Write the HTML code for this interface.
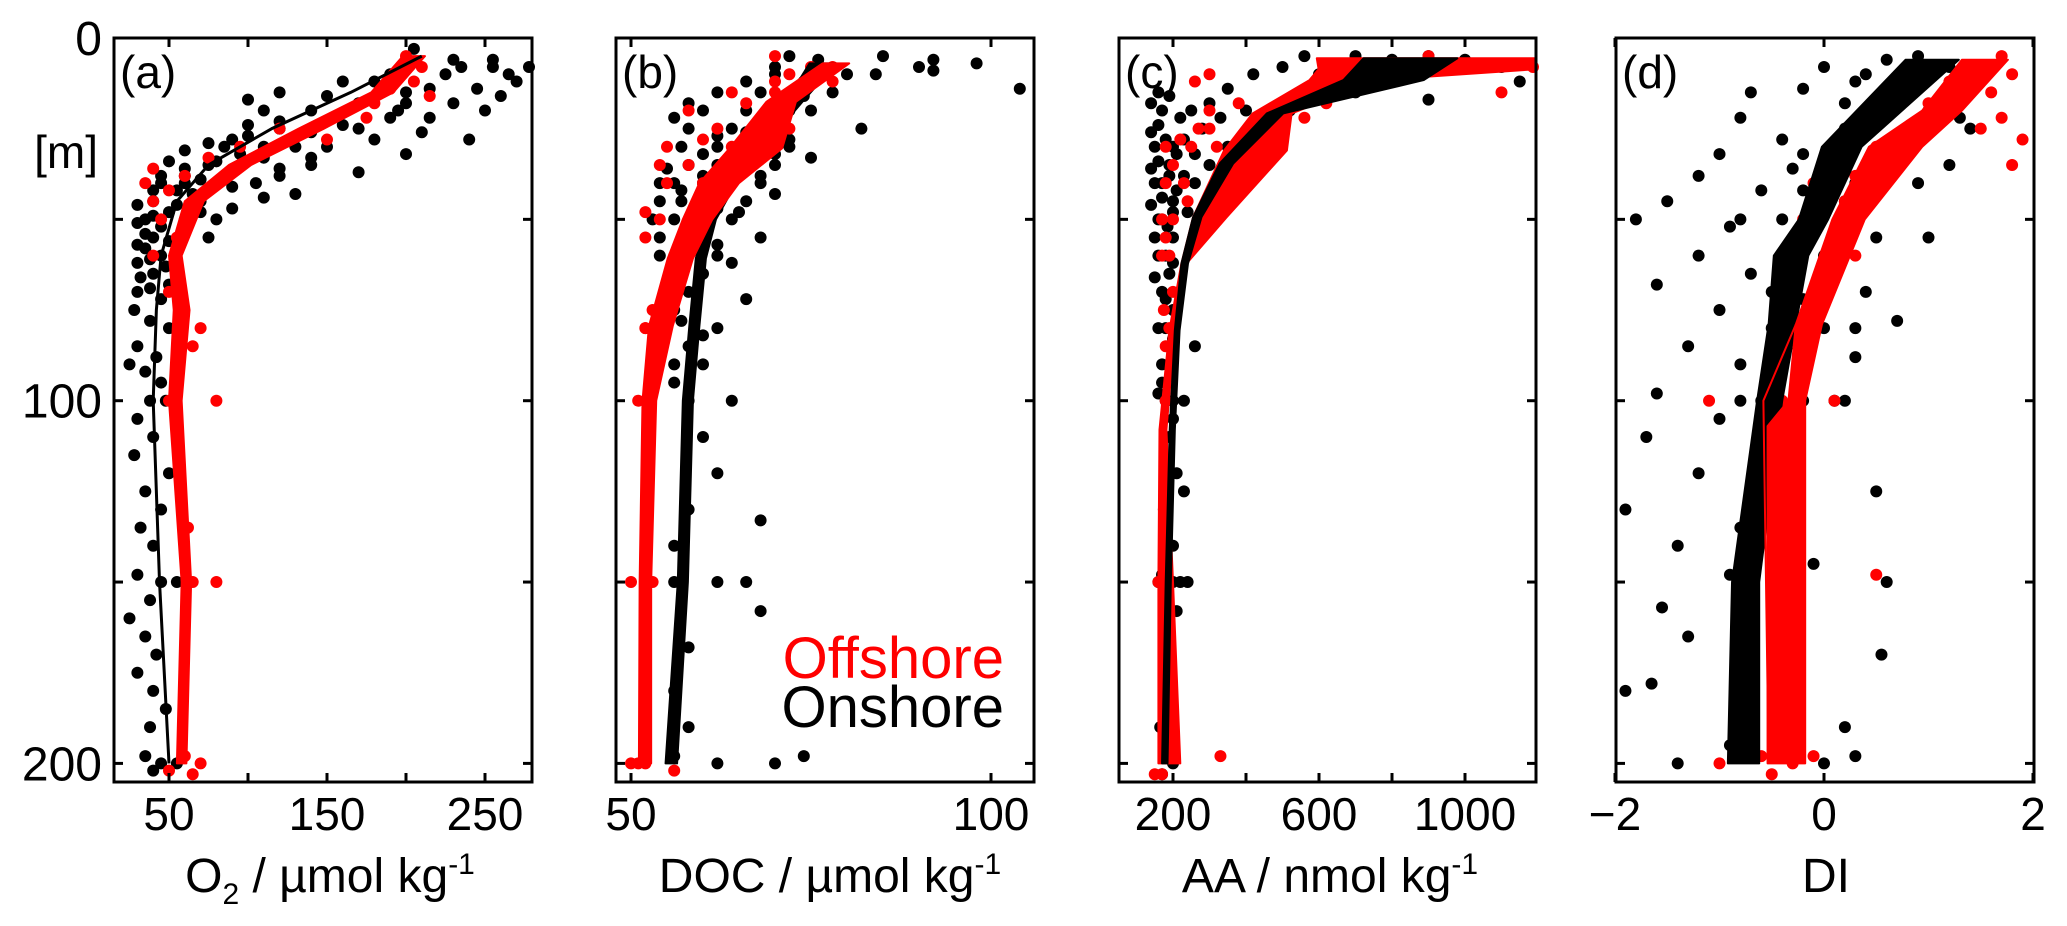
<!DOCTYPE html>
<html><head><meta charset="utf-8"><style>
html,body{margin:0;padding:0;background:#fff;}
svg{display:block;font-family:"Liberation Sans",Arial,sans-serif;}
</style></head><body>
<svg id="fig" width="2067" height="926" viewBox="0 0 2067 926" xmlns="http://www.w3.org/2000/svg"></svg>
<script>
// ---- data ----
const depthTicks = [0, 50, 100, 150, 200];
const depthLabels = ["0", "100", "200"];
// panel a: O2
const aTicks = [50, 100, 150, 200, 250];
const aLabels = [50, 150, 250];
const aOnDots = [[3,205],[6,255],[8,280],[8,235],[10,225],[10,190],[12,180],[12,160],[14,245],[15,200],[16,150],[18,230],[18,170],[20,140],[20,195],[22,215],[24,160],[25,120],[27,100],[28,240],[28,180],[30,85],[30,130],[30,150],[32,200],[33,110],[35,75],[35,95],[35,140],[37,170],[38,60],[38,120],[40,45],[40,80],[40,105],[42,55],[43,130],[45,40],[45,70],[47,90],[48,50],[50,35],[50,60],[52,45],[55,40],[55,75],[58,35],[60,45],[62,30],[65,40],[68,50],[70,30],[72,45],[75,28],[78,38],[80,50],[85,30],[88,42],[90,25],[92,35],[95,45],[100,38],[100,48],[105,30],[110,40],[115,28],[120,50],[125,35],[130,45],[135,32],[140,40],[148,30],[150,45],[150,55],[155,38],[160,25],[165,35],[170,42],[175,30],[180,40],[185,48],[190,38],[198,35],[200,45],[200,55],[202,40]];
const aOnDotsExtra = [[20,250],[22,190],[23,120],[24,100],[26,210],[26,140],[28,90],[29,75],[30,110],[31,60],[32,95],[33,140],[34,50],[34,80],[36,120],[36,60],[37,90],[38,45],[39,70],[40,60],[41,90],[42,40],[43,65],[44,110],[46,55],[46,30],[48,70],[49,40],[50,80],[51,30],[53,60],[54,35],[56,50],[57,30],[59,55],[61,38],[63,48],[66,32],[69,38],[8,255],[10,265],[6,230],[14,215],[16,260],[12,270],[18,200],[20,110],[25,170],[15,120],[17,100]];
const aOffDots = [[5,200],[8,210],[10,195],[12,205],[14,190],[16,215],[18,180],[22,175],[25,120],[28,150],[30,95],[33,75],[36,40],[38,60],[40,35],[42,50],[45,40],[50,45],[55,55],[60,40],[70,50],[80,70],[85,65],[100,50],[100,80],[135,62],[150,65],[150,80],[198,60],[200,70],[202,50],[203,65]];
const bandDepthA = [5,15,25,35,45,60,75,100,150,200];
const aOffLo = [198,178,132,88,60,50,53,50,58,55];
const aOffHi = [212,192,148,102,72,58,63,58,64,61];
const aOnMean = [210,165,115,75,55,45,42,40,44,50];
// panel b: DOC
const bTicks = [50, 100];
const bLabels = [50, 100];
const bOnDots = [[5,72],[5,85],[6,92],[8,76],[8,90],[10,70],[10,80],[12,74],[14,104],[15,68],[15,78],[18,72],[20,66],[20,75],[22,70],[25,64],[25,82],[28,68],[30,62],[30,72],[33,66],[35,58],[35,70],[38,64],[40,56],[40,68],[42,62],[45,54],[45,66],[48,60],[50,56],[50,64],[55,58],[55,68],[60,54],[60,62],[65,60],[70,58],[72,66],[75,56],[80,62],[85,58],[90,60],[95,56],[100,58],[100,64],[110,60],[120,62],[130,58],[133,68],[140,56],[150,56],[150,62],[150,66],[158,68],[168,58],[180,56],[190,58],[198,56],[200,62],[200,70],[198,74]];
const bOnDotsExtra = [[15,62],[18,58],[20,60],[22,56],[25,58],[27,62],[28,72],[30,57],[32,60],[33,75],[35,62],[36,55],[38,60],[40,54],[40,60],[42,57],[43,70],[45,57],[47,62],[48,65],[50,53],[52,58],[55,54],[57,62],[60,57],[62,64],[70,55],[78,57],[82,60],[90,56],[8,70],[6,76],[12,66],[10,84],[7,98],[9,92],[16,74],[20,72],[26,66],[32,70],[38,68]];
const bOffDots = [[5,70],[8,75],[10,72],[12,78],[15,70],[18,66],[22,68],[25,72],[28,60],[30,64],[35,58],[40,55],[45,60],[50,54],[55,52],[65,56],[75,53],[80,52],[100,51],[150,50],[150,53],[200,51],[202,56],[200,52],[15,64],[20,58],[25,62],[30,55],[35,54],[40,60],[48,52],[60,56],[80,52],[100,52],[200,50],[12,70],[8,78]];
const bandDepthB = [7,17.6,30.4,40,50,60.8,79.4,100,150,200];
const bOffLo = [76.6,68.8,63.7,59.5,57.2,55.1,52.5,51.6,51.2,51.1];
const bOffHi = [80.3,72.9,71,65,61.3,58.6,55.8,53.5,52.8,52.8];
const bOnLo = [74.8,71.5,66.4,63.2,60.4,59,58.1,57.2,56.5,54.8];
const bOnHi = [78.5,73.8,68.3,64.6,61.8,60.4,59.5,58.6,57.9,56.4];
// panel c: AA
const cTicks = [200, 400, 600, 800, 1000];
const cLabels = [200, 600, 1000];
const cOnDots = [[5,700],[5,900],[6,1000],[8,500],[8,800],[10,420],[10,650],[12,1150],[14,350],[15,550],[18,300],[20,250],[20,400],[22,330],[25,280],[25,450],[28,230],[30,200],[30,350],[32,260],[35,190],[35,300],[38,230],[40,170],[40,260],[45,200],[48,240],[50,170],[55,200],[58,250],[60,180],[65,190],[70,170],[75,200],[80,180],[85,260],[90,190],[95,170],[100,180],[100,230],[105,200],[110,190],[120,210],[125,230],[130,175],[140,200],[148,170],[150,200],[150,240],[158,210],[170,185],[190,165],[198,180],[200,200],[203,170]];
const cOnDotsExtra = [[15,160],[16,190],[18,140],[20,170],[22,220],[24,160],[26,140],[28,180],[30,150],[32,210],[34,160],[36,140],[38,190],[40,150],[42,210],[44,170],[46,140],[48,200],[50,160],[52,185],[55,150],[60,160],[62,200],[66,150],[72,180],[80,160],[83,200],[90,170],[98,160],[100,200],[150,160],[150,190],[150,220],[5,560],[6,800],[8,1100],[10,600],[12,700],[15,700],[17,900],[20,520],[25,500],[30,480]];
const cOffDots = [[5,900],[8,1194],[8,700],[10,650],[15,1100],[18,620],[22,560],[25,300],[28,400],[30,250],[35,200],[40,180],[45,240],[50,200],[55,180],[60,170],[75,175],[80,190],[100,180],[150,175],[150,160],[198,330],[203,150],[203,170],[10,300],[12,260],[20,300],[25,270],[30,180],[40,230],[50,170],[60,190],[70,200],[85,180],[30,320],[18,380],[28,220]];
const bandDepthC = [5.6,8.6,11.6,20.8,31,49.4,62.2,80.6,108,150,200];
const cOffLo = [594,599,574,418,340,255,223,190,163,160,160];
const cOffHi = [1199,1199,759,525,512,347,237,205,182,200,220];
const bandDepthC2 = [5.6,11.6,20.8,34.6,49.4,62.2,80.6,108,150,200];
const cOnLo = [722,667,457,328,255,223,205,191,180,170];
const cOnHi = [979,887,502,365,278,241,218,205,194,185];
// panel d: DI
const dTicks = [-2, 0, 2];
const dLabels = ["\u22122", "0", "2"];
const dOnDots = [[5,0.9],[6,0.6],[8,1.2],[10,0.4],[12,1.3],[14,-0.2],[15,0.8],[18,0.2],[20,1.0],[22,-0.8],[24,0.5],[25,1.4],[28,-0.4],[30,0.1],[32,-1.0],[35,0.6],[36,-0.3],[38,-1.2],[40,0.3],[42,-0.6],[45,-1.5],[45,0.2],[48,-0.1],[50,-1.8],[52,-0.9],[55,0.5],[58,-0.3],[60,-1.2],[62,0.1],[65,-0.7],[68,-1.6],[70,0.4],[72,-0.2],[75,-1.0],[78,0.7],[80,-0.5],[85,-1.3],[88,0.3],[90,-0.8],[95,-0.2],[98,-1.6],[100,-0.6],[100,0.1],[105,-1.0],[110,-1.7],[115,-0.3],[120,-1.2],[125,0.5],[130,-1.9],[135,-0.8],[140,-1.4],[145,-0.1],[148,-0.9],[150,-0.3],[150,0.6],[157,-1.55],[165,-1.3],[170,0.55],[178,-1.65],[180,-1.9],[190,0.2],[195,-0.9],[200,-1.4],[200,0.0],[198,0.3]];
const dOnDotsExtra = [[8,0.0],[10,0.9],[12,0.3],[15,-0.7],[18,0.6],[22,1.3],[25,0.2],[30,0.7],[32,-0.2],[35,1.2],[40,0.9],[42,-0.2],[50,-0.8],[50,-0.4],[55,1.0],[60,0.0],[70,-0.5],[80,0.0],[80,0.3],[100,-0.2],[100,0.2],[100,-0.8]];
const dOffDots = [[5,1.7],[8,1.5],[10,1.8],[12,1.2],[15,1.6],[18,1.0],[22,1.7],[25,0.8],[28,1.9],[30,0.5],[35,1.8],[38,0.3],[40,-0.1],[45,0.2],[100,-1.1],[100,0.1],[150,-0.8],[148,0.5],[198,-0.1],[200,-1.0],[203,-0.5],[20,0.5],[25,1.5],[32,0.8],[40,0.6],[50,-0.2],[60,0.3],[80,-0.3],[100,-0.4],[200,-0.3],[198,-0.6]];
const bandDepthD = [6,30,50,60,79,100,150,200];
const dOnLo = [0.78,-0.02,-0.24,-0.48,-0.53,-0.64,-0.88,-0.92];
const dOnHi = [1.29,0.36,0.04,-0.15,-0.27,-0.40,-0.62,-0.62];
const bandDepthD2 = [6,20,30,50,79,100,107,150,200];
const dOffLo = [1.32,0.94,0.43,0.08,-0.27,-0.34,-0.54,-0.54,-0.54];
const dOffHi = [1.76,1.32,0.94,0.39,-0.02,-0.18,-0.18,-0.18,-0.18];
const dOffLineDepth = [79,100,200];
const dOffLineVal = [-0.27,-0.58,-0.53];

// ---- layout ----
const NS = "http://www.w3.org/2000/svg";
const svg = document.getElementById("fig");
const TOP = 38, BOT = 782;
function yScale(d){ return 38 + (763.4 - 38) * d / 200; }
function mk(tag, attrs, parent){
  const e = document.createElementNS(NS, tag);
  for (const k in attrs) e.setAttribute(k, attrs[k]);
  (parent || svg).appendChild(e);
  return e;
}
const panels = [
  {id:"a", left:114, right:532, v0:50, p0:169, v1:250, p1:485, ticks:aTicks, labels:aLabels, labelText:null},
  {id:"b", left:616, right:1034, v0:50, p0:631, v1:100, p1:991, ticks:bTicks, labels:bLabels, labelText:null},
  {id:"c", left:1119, right:1536, v0:200, p0:1173, v1:1000, p1:1465, ticks:cTicks, labels:cLabels, labelText:null},
  {id:"d", left:1616, right:2034, v0:-2, p0:1615, v1:2, p1:2033, ticks:dTicks, labels:dTicks, labelText:dLabels}
];
function xs(p){ return v => p.p0 + (v - p.v0) * (p.p1 - p.p0) / (p.v1 - p.v0); }

function band(g, p, depths, lo, hi, color, name){
  const x = xs(p);
  let pts = [];
  for (let i=0;i<depths.length;i++) pts.push(Math.min(x(lo[i]),p.right)+","+yScale(depths[i]));
  for (let i=depths.length-1;i>=0;i--) pts.push(Math.min(x(hi[i]),p.right)+","+yScale(depths[i]));
  const e = mk("polygon",{points:pts.join(" "),fill:color,stroke:color,"stroke-width":2,"stroke-linejoin":"round"},g);
  
  
}
function line(g, p, depths, vals, color, w, name){
  const x = xs(p);
  const pts = depths.map((d,i)=>x(vals[i])+","+yScale(d)).join(" ");
  const e = mk("polyline",{points:pts,fill:"none",stroke:color,"stroke-width":w,"stroke-linejoin":"round"},g);
  
  
}
function dots(g, p, arr, color, name){
  const x = xs(p);
  arr.forEach(([d,v])=>{
    const c = mk("circle",{cx:Math.min(Math.max(x(v),p.left+4),p.right-3),cy:yScale(d),r:6,fill:color},g);
    
    
  });
}

panels.forEach(p=>{
  const g = mk("g",{});
  
  
  const x = xs(p);
  if (p.id==="a"){
    dots(g,p,aOnDots,"#000","onshore-point");
    dots(g,p,aOnDotsExtra,"#000","onshore-point");
    dots(g,p,aOffDots,"#f00","offshore-point");
    band(g,p,bandDepthA,aOffLo,aOffHi,"#f00","offshore-mean-band");
    line(g,p,bandDepthA,aOnMean,"#000",3,"onshore-mean-line");
  } else if (p.id==="b"){
    dots(g,p,bOnDots,"#000","onshore-point");
    dots(g,p,bOnDotsExtra,"#000","onshore-point");
    dots(g,p,bOffDots,"#f00","offshore-point");
    band(g,p,bandDepthB,bOnLo,bOnHi,"#000","onshore-mean-band");
    band(g,p,bandDepthB,bOffLo,bOffHi,"#f00","offshore-mean-band");
  } else if (p.id==="c"){
    dots(g,p,cOnDots,"#000","onshore-point");
    dots(g,p,cOnDotsExtra,"#000","onshore-point");
    dots(g,p,cOffDots,"#f00","offshore-point");
    band(g,p,bandDepthC,cOffLo,cOffHi,"#f00","offshore-mean-band");
    band(g,p,bandDepthC2,cOnLo,cOnHi,"#000","onshore-mean-band");
  } else {
    dots(g,p,dOnDots,"#000","onshore-point");
    dots(g,p,dOnDotsExtra,"#000","onshore-point");
    dots(g,p,dOffDots,"#f00","offshore-point");
    band(g,p,bandDepthD,dOnLo,dOnHi,"#000","onshore-mean-band");
    band(g,p,bandDepthD2,dOffLo,dOffHi,"#f00","offshore-mean-band");
    line(g,p,dOffLineDepth,dOffLineVal,"#f00",2,"offshore-thin-line");
  }
  const box = mk("rect",{x:p.left,y:TOP,width:p.right-p.left,height:BOT-TOP,fill:"none",stroke:"#000","stroke-width":3},g);
  
  
  depthTicks.forEach(d=>{
    const y = yScale(d);
    const t1 = mk("line",{x1:p.left,x2:p.left+9,y1:y,y2:y,stroke:"#000","stroke-width":3},g);
    
    
    const t2 = mk("line",{x1:p.right,x2:p.right-9,y1:y,y2:y,stroke:"#000","stroke-width":3},g);
    
    
  });
  p.ticks.forEach(v=>{
    const xx = x(v);
    const t1 = mk("line",{x1:xx,x2:xx,y1:BOT,y2:BOT-9,stroke:"#000","stroke-width":3},g);
    
    
    const t2 = mk("line",{x1:xx,x2:xx,y1:TOP,y2:TOP+9,stroke:"#000","stroke-width":3},g);
    
    
  });
  p.labels.forEach((v,i)=>{
    const t = mk("text",{x:x(v),y:830,"font-size":46,"text-anchor":"middle",fill:"#000"},g);
    t.textContent = p.labelText ? p.labelText[i] : String(v);
    
    
  });
  const pl = mk("text",{x:p.left+6,y:88,"font-size":46,fill:"#000"},g);
  pl.textContent = "(" + p.id + ")";
  
  
});

depthLabels.forEach((s,i)=>{
  const t = mk("text",{x:102,y:yScale([0,100,200][i])+17,"font-size":48,"text-anchor":"end",fill:"#000"});
  t.textContent = s;
  
  
});
const unit = mk("text",{x:98,y:168,"font-size":46,"text-anchor":"end",fill:"#000"});
unit.textContent = "[m]";



svg.insertAdjacentHTML("beforeend",
 '<text x="330" y="892" font-size="48" text-anchor="middle">O<tspan font-size="30" dy="12">2</tspan><tspan dy="-12"> / µmol kg</tspan><tspan font-size="30" dy="-18">-1</tspan></text>' +
 '<text x="830" y="892" font-size="48" text-anchor="middle">DOC / µmol kg<tspan font-size="30" dy="-18">-1</tspan></text>' +
 '<text x="1330" y="892" font-size="48" text-anchor="middle">AA / nmol kg<tspan font-size="30" dy="-18">-1</tspan></text>' +
 '<text x="1826" y="892" font-size="48" text-anchor="middle">DI</text>' +
 '<text x="1004" y="678" font-size="58" text-anchor="end" fill="#f00">Offshore</text>' +
 '<text x="1004" y="727" font-size="58" text-anchor="end" fill="#000">Onshore</text>');
</script>
</body></html>
